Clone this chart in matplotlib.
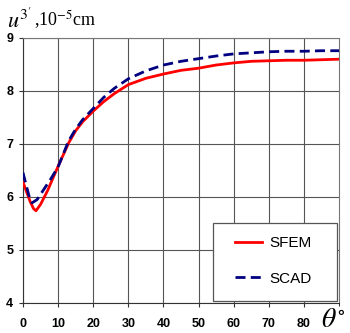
import matplotlib
matplotlib.use("Agg")
import matplotlib.pyplot as plt
from matplotlib.patches import Rectangle

# SFEM curve
theta_sfem = [0, 1, 2, 3, 3.7, 5, 7, 10, 13, 15, 17, 20, 23, 26, 30, 35, 40, 45, 50, 55, 60, 65, 70, 75, 80, 85, 90]
u_sfem = [6.28, 6.1, 5.92, 5.78, 5.74, 5.86, 6.12, 6.58, 7.02, 7.25, 7.42, 7.62, 7.8, 7.95, 8.12, 8.24, 8.32,
          8.39, 8.43, 8.49, 8.53, 8.56, 8.57, 8.58, 8.58, 8.59, 8.60]

# SCAD curve
theta_scad = [0, 1, 2, 2.6, 4, 6, 8, 10, 13, 15, 17, 20, 23, 26, 30, 35, 40, 45, 50, 55, 60, 65, 70, 75, 80, 85, 90]
u_scad = [6.46, 6.2, 5.95, 5.89, 5.95, 6.15, 6.35, 6.57, 7.06, 7.28, 7.46, 7.67, 7.88, 8.05, 8.23, 8.38, 8.49,
          8.56, 8.61, 8.66, 8.70, 8.72, 8.74, 8.75, 8.75, 8.76, 8.76]

xticks = [0, 10, 20, 30, 40, 50, 60, 70, 80]
yticks = [4, 5, 6, 7, 8, 9]

plt.rcParams['font.family'] = ['Liberation Sans', 'DejaVu Sans']
plt.rcParams['mathtext.fontset'] = 'stix'

fig = plt.figure(figsize=(3.5, 3.33), dpi=100)
ax = fig.add_axes([0.0657, 0.0901, 0.9029, 0.7958])

ax.plot(theta_sfem, u_sfem, color='#ff0000', lw=2.0, label='SFEM', zorder=3)
ax.plot(theta_scad, u_scad, color='#000080', lw=2.0, ls=(0, (3.6, 1.9)), label='SCAD', zorder=4)

ax.set_xlim(0, 90)
ax.set_ylim(4, 9)
ax.set_xticks(xticks)
ax.set_yticks(yticks)
ax.set_xticks([90], minor=True)
ax.tick_params(axis='both', labelsize=9, length=3, width=0.8, color='#333333')
ax.tick_params(axis='x', pad=8)
ax.tick_params(axis='y', pad=4)
for lab in ax.get_xticklabels() + ax.get_yticklabels():
    lab.set_fontweight('bold')
ax.grid(True, color='#555555', lw=0.8)
for s in ax.spines.values():
    s.set_color('#777777')
    s.set_linewidth(0.8)
ax.spines['left'].set_color('#333333')
ax.spines['bottom'].set_color('#333333')

# legend box drawn separately so its padding matches the reference
box = Rectangle((0.601, 0.0075), 0.393, 0.2945, transform=ax.transAxes, facecolor='white',
                edgecolor='#555555', lw=0.9, zorder=5)
ax.add_patch(box)
leg = ax.legend(loc='center left', bbox_to_anchor=(0.671, 0.158), fontsize=11, handlelength=1.75,
                handletextpad=0.5, labelspacing=1.4, borderpad=0, borderaxespad=0, frameon=False)
leg.set_zorder(6)

fig.text(7 / 350, 1 - 20 / 333, r"$u^{3'}$", fontsize=16, family='Liberation Serif',
         va='center', ha='left')
fig.text(34 / 350, 1 - 20 / 333, r",10$^{-5}$cm", fontsize=13, family='Liberation Serif',
         va='center', ha='left')
fig.text(333 / 350, 1 - 320 / 333, r"$\theta^{\circ}$", fontsize=20, va='center', ha='center')

fig.savefig('out.png', dpi=100)
